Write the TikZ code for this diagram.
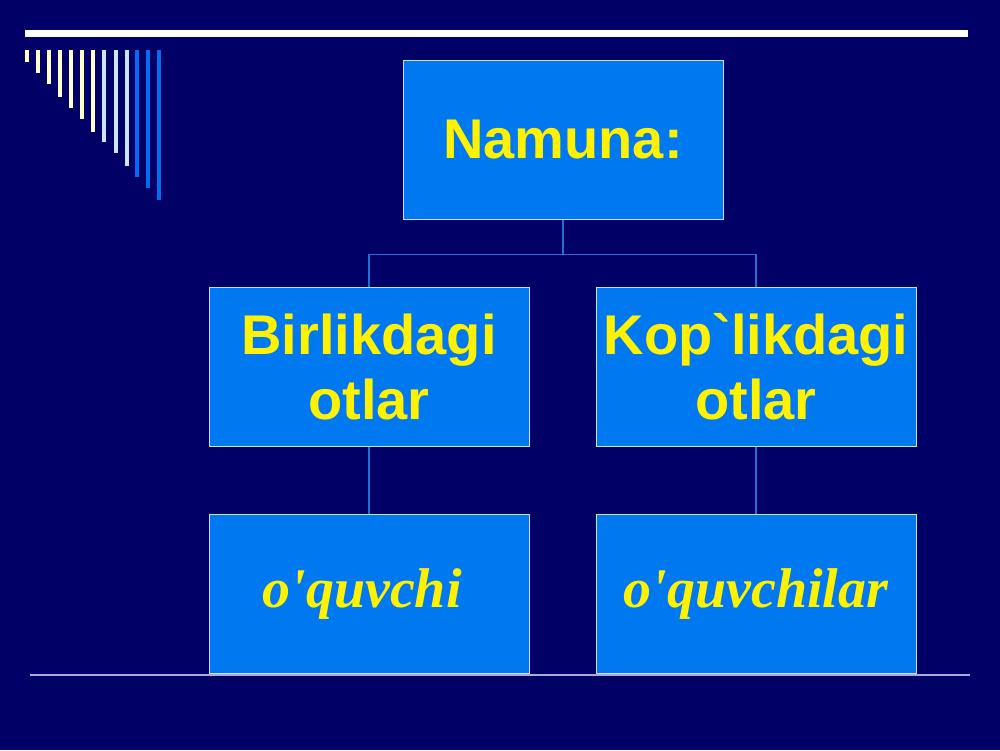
\documentclass[tikz,border=0pt]{standalone}
\usepackage{fontspec}
\usepackage{tikz}
\usetikzlibrary{positioning,calc}
\newfontfamily\boxsans{Liberation Sans}
\newfontfamily\boxserif{Liberation Serif}
\definecolor{slidebg}{RGB}{0,0,102}
\definecolor{boxblue}{RGB}{0,120,240}
\definecolor{boxedge}{RGB}{200,225,255}
\definecolor{linkblue}{RGB}{40,110,210}
\definecolor{cream}{RGB}{255,255,204}
\definecolor{paleblue}{RGB}{204,229,255}
\definecolor{barblue}{RGB}{0,110,240}
\definecolor{rule}{RGB}{170,170,220}
\tikzset{
  card/.style = {draw=boxedge, line width=1pt, fill=boxblue, minimum width=320pt,
                 minimum height=159pt, inner sep=2pt, text=yellow, align=center,
                 text width=316pt},
  word/.style = {card, font=\boxsans\bfseries\fontsize{56}{65}\selectfont},
  sample/.style = {card, font=\boxserif\bfseries\itshape\fontsize{56}{65}\selectfont},
  link/.style = {draw=linkblue, line width=1.5pt}
}

\begin{document}
\begin{tikzpicture}[x = 1pt, y = -1pt]
\useasboundingbox[fill=slidebg] (0,0) rectangle (1000,750);

% top rule and corner bars
\draw[white, line width=7pt] (25,33) -- (968,33);
\foreach \x/\y/\c in {27/62/cream, 38/73/cream, 49/84/cream, 60/97/cream,
                      71/108/cream, 82/119/cream, 93/132/cream,
                      104/142/paleblue, 116/153/paleblue, 127/166/paleblue,
                      137/177/barblue, 148/188/barblue, 159/200/barblue}
  \draw[\c, line width=4pt] (\x,50) -- (\x,\y);

% bottom rule
\draw[rule, line width=2pt] (30,675) -- (970,675);

\node[word] (namuna) at (563, 139.5) {Namuna:};
\node[word] (birlik) at (369, 366.5) {Birlikdagi\\otlar};
\node[word] (koplik) at (756, 366.5) {Kop\textasciigrave likdagi\\otlar};
\node[sample] (oquvchi) at (369, 594) {o\textquotesingle quvchi\hspace*{14pt}};
\node[sample] (oquvchilar) at (756, 594) {o\textquotesingle quvchilar};

\draw[link] (namuna.south) -- ++(0,35) -| (birlik.north);
\draw[link] (namuna.south) -- ++(0,35) -| (koplik.north);
\draw[link] (birlik) -- (oquvchi);
\draw[link] (koplik) -- (oquvchilar);

\end{tikzpicture}
\end{document}
